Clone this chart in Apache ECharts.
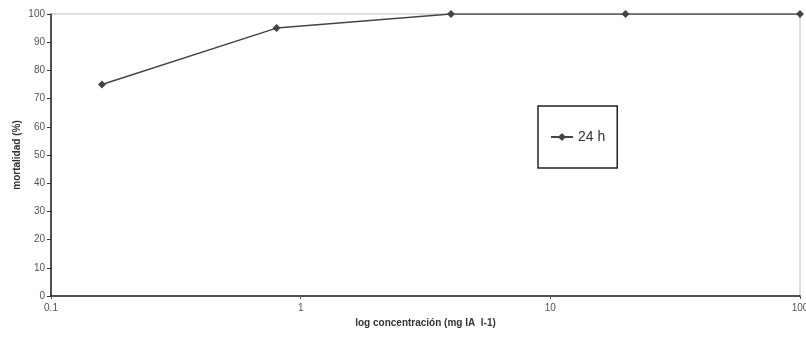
<!DOCTYPE html>
<html>
<head>
<meta charset="utf-8">
<script src="https://cdn.jsdelivr.net/npm/echarts@6/dist/echarts.min.js"></script>
<style>
  html, body { margin: 0; padding: 0; background: #fff; }
  #chart { width: 806px; height: 341px; }
</style>
</head>
<body>
<div id="chart"></div>
<script>
// concentration (mg IA l-1) vs mortality (%), 24 h
const concentracion = [0.16, 0.8, 4, 20, 100];
const mortalidad = [75, 95, 100, 100, 100];
const serieNombre = '24 h';

const chart = echarts.init(document.getElementById('chart'));

const option = {
  animation: false,
  textStyle: { fontFamily: 'Liberation Sans, Arial, sans-serif' },
  grid: {
    left: 51, right: 6, top: 14, bottom: 45,
    outerBoundsMode: 'none',
    containLabel: false,
    show: true, borderColor: '#bbb', borderWidth: 1
  },
  legend: {
    left: 538, top: 106,
    orient: 'vertical',
    data: [serieNombre],
    borderColor: '#222', borderWidth: 1.5,
    padding: [24, 12, 24, 12],
    itemWidth: 22, itemHeight: 10, itemGap: 4,
    textStyle: { fontSize: 14, color: '#333' }
  },
  xAxis: {
    type: 'log',
    logBase: 10,
    min: 0.1, max: 100,
    name: 'log concentración (mg IA  l-1)',
    nameLocation: 'middle',
    nameGap: 21,
    nameTextStyle: { fontSize: 10, fontWeight: 'bold', color: '#333' },
    axisLine: { lineStyle: { color: '#222', width: 1.5 } },
    axisTick: { show: true, length: 3, lineStyle: { color: '#555' } },
    axisLabel: { fontSize: 10, color: '#555', margin: 7 },
    splitLine: { show: false },
    minorTick: { show: false }
  },
  yAxis: {
    type: 'value',
    min: 0, max: 100, interval: 10,
    name: 'mortalidad (%)',
    nameLocation: 'middle',
    nameGap: 29,
    nameMoveOverlap: false,
    nameTextStyle: { fontSize: 10, fontWeight: 'bold', color: '#333' },
    axisLine: { show: true, lineStyle: { color: '#222', width: 1.5 } },
    axisTick: { show: true, length: 4, lineStyle: { color: '#333' } },
    axisLabel: { fontSize: 10, color: '#555', margin: 6 },
    splitLine: { show: false }
  },
  series: [{
    name: serieNombre,
    type: 'line',
    data: concentracion.map((c, i) => [c, mortalidad[i]]),
    symbol: 'diamond',
    symbolSize: 8,
    itemStyle: { color: '#444' },
    lineStyle: { color: '#444', width: 1.5 }
  }]
};
chart.setOption(option);
</script>
</body>
</html>
